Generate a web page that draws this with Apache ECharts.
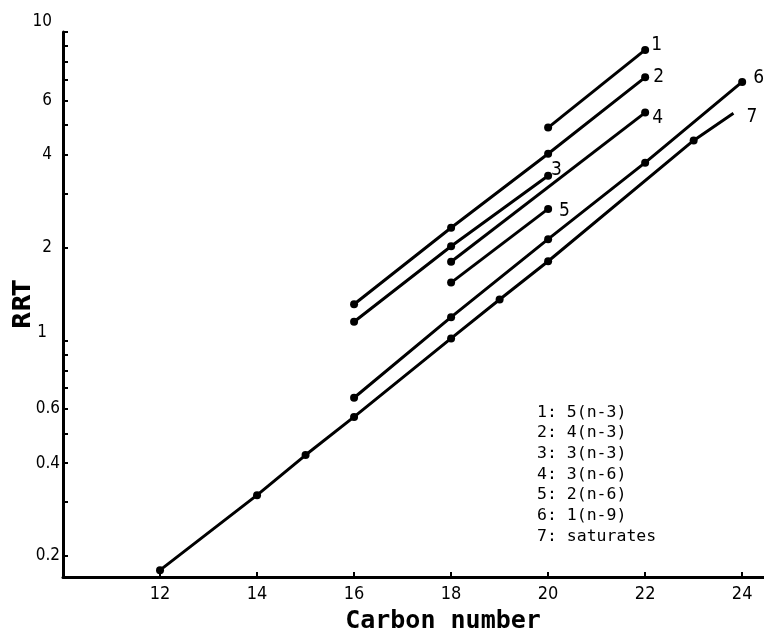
<!DOCTYPE html>
<html>
<head>
<meta charset="utf-8">
<script src="https://cdn.jsdelivr.net/npm/echarts@6/dist/echarts.min.js"></script>
<style>
  html, body { margin: 0; padding: 0; background: #fff; }
  #chart { width: 764px; height: 636px; }
</style>
</head>
<body>
<div id="chart"></div>
<script>
// relative retention time vs carbon number (log scale)
const seriesNames = ['1', '2', '3', '4', '5', '6', '7'];
const legendLabels = ['5(n-3)', '4(n-3)', '3(n-3)', '3(n-6)', '2(n-6)', '1(n-9)', 'saturates'];

const carbon1 = [20, 22];
const rrt1 = [4.90, 8.75];
const carbon2 = [16, 18, 20, 22];
const rrt2 = [1.31, 2.32, 4.03, 7.13];
const carbon3 = [16, 18, 20];
const rrt3 = [1.15, 2.02, 3.42];
const carbon4 = [18, 22];
const rrt4 = [1.80, 5.48];
const carbon5 = [18, 20];
const rrt5 = [1.54, 2.67];
const carbon6 = [16, 18, 20, 22, 24];
const rrt6 = [0.652, 1.19, 2.13, 3.77, 6.89];
const carbon7 = [12, 14, 15, 16, 18, 19, 20, 23, 23.82];
const rrt7 = [0.180, 0.315, 0.425, 0.565, 1.015, 1.357, 1.806, 4.45, 5.45];

const xTicks = [12, 14, 16, 18, 20, 22, 24];
const yTicks = [0.2, 0.3, 0.4, 0.5, 0.6, 0.7, 0.8, 0.9, 1, 2, 3, 4, 5, 6, 7, 8, 9, 10];
const yLabels = [0.2, 0.4, 0.6, 1, 2, 4, 6, 10];

const carbons = [carbon1, carbon2, carbon3, carbon4, carbon5, carbon6, carbon7];
const rrts = [rrt1, rrt2, rrt3, rrt4, rrt5, rrt6, rrt7];

// label nudges next to the line ends
const endOffsets = [[2, -5], [4, 0], [-1, -6], [3, 5], [7, 2], [7, -4], [13, 4]];

const labelFont = "'DejaVu Sans Condensed', 'Liberation Sans Narrow', 'DejaVu Sans', sans-serif";
const monoFont = "'DejaVu Sans Mono', 'Liberation Mono', monospace";

const chart = echarts.init(document.getElementById('chart'));

const series = seriesNames.map((name, i) => {
  const data = carbons[i].map((c, j) => [c, rrts[i][j]]);
  const last = data.length - 1;
  return {
    name: name,
    type: 'line',
    data: data,
    symbol: 'circle',
    // saturates line runs past its last point without a dot
    symbolSize: (v, p) => (i === 6 && p.dataIndex === last) ? 0 : 8,
    itemStyle: { color: '#000' },
    lineStyle: { color: '#000', width: 3 },
    label: {
      show: true,
      position: 'right',
      distance: 0,
      offset: endOffsets[i],
      color: '#000',
      fontSize: 19,
      fontFamily: labelFont,
      formatter: p => p.dataIndex === last ? name : ''
    },
    emphasis: { disabled: true },
    z: 3
  };
});

chart.setOption({
  backgroundColor: '#fff',
  animation: false,
  grid: {
    left: 63,
    right: 0,
    top: 32,
    bottom: 59,
    outerBoundsMode: 'none'
  },
  xAxis: {
    type: 'value',
    min: 10,
    max: 24.45,
    name: 'Carbon number',
    nameLocation: 'middle',
    nameGap: 32,
    nameMoveOverlap: false,
    nameTextStyle: {
      color: '#000',
      fontSize: 25,
      fontWeight: 'bold',
      fontFamily: monoFont,
      padding: [0, 0, 0, 59]
    },
    axisLine: { lineStyle: { color: '#000', width: 3 } },
    axisTick: {
      inside: true,
      length: 5,
      customValues: xTicks,
      lineStyle: { color: '#000', width: 2 }
    },
    axisLabel: {
      customValues: xTicks,
      margin: 8,
      color: '#000',
      fontSize: 18,
      fontFamily: labelFont
    },
    splitLine: { show: false }
  },
  yAxis: {
    type: 'log',
    logBase: 10,
    min: 0.171,
    max: 10,
    name: 'RRT',
    nameLocation: 'middle',
    nameGap: 27,
    nameRotate: 90,
    nameMoveOverlap: false,
    nameTextStyle: {
      color: '#000',
      fontSize: 25,
      fontWeight: 'bold',
      fontFamily: labelFont
    },
    axisLine: { show: true, lineStyle: { color: '#000', width: 3 } },
    axisTick: {
      inside: true,
      length: 5,
      customValues: yTicks,
      lineStyle: { color: '#000', width: 2 }
    },
    axisLabel: {
      customValues: yLabels,
      margin: 3,
      color: '#000',
      fontSize: 17,
      fontFamily: labelFont,
      formatter: v => {
        const s = String(+Number(v).toPrecision(3));
        if (s === '10') return '{top|10}';
        if (s === '1') return '{one|1}';
        if (Number(v) > 1) return '{int|' + s + '}';
        return s;
      },
      rich: {
        int: { fontSize: 17, fontFamily: labelFont, color: '#000', padding: [0, 8, 0, 0] },
        top: { fontSize: 17, fontFamily: labelFont, color: '#000', padding: [0, 8, 20, 0] },
        one: { fontSize: 17, fontFamily: labelFont, color: '#000', padding: [0, 13, 16, 0] }
      }
    },
    splitLine: { show: false }
  },
  graphic: [{
    type: 'text',
    left: 537,
    top: 402,
    style: {
      text: legendLabels.map((t, i) => seriesNames[i] + ': ' + t).join('\n'),
      font: '16.5px ' + monoFont,
      lineHeight: 20.7,
      fill: '#000'
    }
  }],
  series: series
});
</script>
</body>
</html>
